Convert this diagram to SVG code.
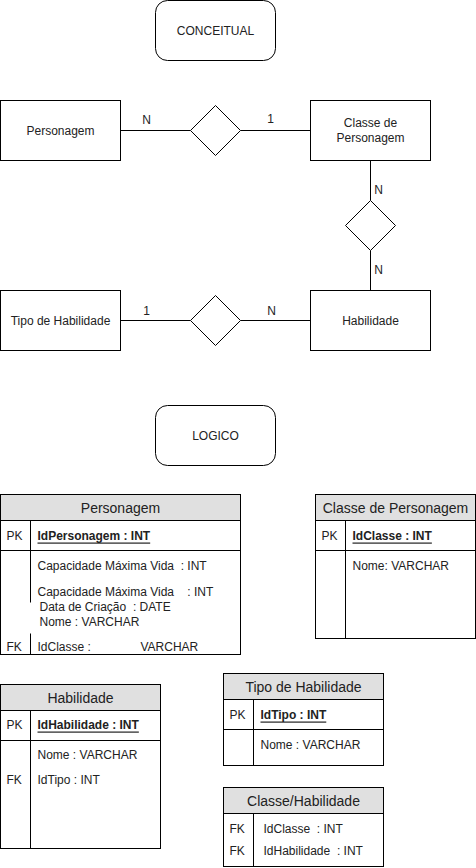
<svg xmlns="http://www.w3.org/2000/svg" width="476" height="868" viewBox="0 0 476 868">
<style>
.s{fill:#fff;stroke:#000;stroke-width:1}
.h{fill:#e0e0e0;stroke:#000;stroke-width:1}
.l{stroke:#000;stroke-width:1;fill:none}
text{font-family:"Liberation Sans",Arial,sans-serif;font-size:12px;fill:#222;dominant-baseline:central;white-space:pre}
.c{text-anchor:middle}
.t{font-size:14px}
.b{font-weight:bold;text-decoration:underline}
</style>
<rect width="476" height="868" fill="#fff"/>
<g transform="translate(0.5,0.5)">
<g id="connectors">
<line class="l" x1="120" y1="130" x2="190" y2="130"/>
<line class="l" x1="240" y1="130" x2="310" y2="130"/>
<line class="l" x1="370" y1="160" x2="370" y2="200"/>
<line class="l" x1="370" y1="250" x2="370" y2="290"/>
<line class="l" x1="120" y1="320" x2="190" y2="320"/>
<line class="l" x1="240" y1="320" x2="310" y2="320"/>
<text x="146" y="119" class="c">N</text>
<text x="270" y="118" class="c">1</text>
<text x="378" y="189" class="c">N</text>
<text x="378" y="269" class="c">N</text>
<text x="146" y="310" class="c">1</text>
<text x="271" y="310" class="c">N</text>
</g>
<g id="conceitual">
<rect class="s" x="155" y="0" width="120" height="60" rx="12"/>
<text x="215" y="30" class="c">CONCEITUAL</text>
</g>
<g id="logico">
<rect class="s" x="155" y="405" width="120" height="60" rx="12"/>
<text x="215" y="435" class="c">LOGICO</text>
</g>
<g id="e-personagem">
<rect class="s" x="0" y="100" width="120" height="60"/>
<text x="60" y="130" class="c">Personagem</text>
</g>
<g id="r-1">
<polygon class="s" points="215,105 240,130 215,155 190,130"/>
</g>
<g id="e-classe">
<rect class="s" x="310" y="100" width="120" height="60"/>
<text x="370" y="122" class="c">Classe de</text>
<text x="370" y="137" class="c">Personagem</text>
</g>
<g id="r-2">
<polygon class="s" points="370,200 395,225 370,250 345,225"/>
</g>
<g id="e-habilidade">
<rect class="s" x="310" y="290" width="120" height="60"/>
<text x="370" y="320" class="c">Habilidade</text>
</g>
<g id="r-3">
<polygon class="s" points="215,295 240,320 215,345 190,320"/>
</g>
<g id="e-tipo">
<rect class="s" x="0" y="290" width="120" height="60"/>
<text x="60" y="320" class="c">Tipo de Habilidade</text>
</g>

<g id="t-personagem">
<rect class="s" x="0" y="494" width="240" height="160"/>
<rect class="h" x="0" y="494" width="240" height="26"/>
<text x="120" y="507" class="c t">Personagem</text>
<line class="l" x1="0" y1="550" x2="240" y2="550"/>
<line class="l" x1="30" y1="520" x2="30" y2="602"/>
<line class="l" x1="30" y1="633" x2="30" y2="654"/>
<text x="6" y="535">PK</text>
<text x="37" y="535" class="b">IdPersonagem : INT</text>
<text x="37" y="565">Capacidade Máxima Vida  : INT</text>
<text x="37" y="591">Capacidade Máxima Vida    : INT</text>
<text x="39" y="606">Data de Criação  : DATE</text>
<text x="39" y="621">Nome : VARCHAR</text>
<text x="6" y="646">FK</text>
<text x="37" y="646">IdClasse :</text>
<text x="140" y="646">VARCHAR</text>
</g>
<g id="t-classe">
<rect class="s" x="315" y="494" width="160" height="144"/>
<rect class="h" x="315" y="494" width="160" height="26"/>
<text x="395" y="507" class="c t">Classe de Personagem</text>
<line class="l" x1="315" y1="550" x2="475" y2="550"/>
<line class="l" x1="345" y1="520" x2="345" y2="638"/>
<text x="321" y="535">PK</text>
<text x="352" y="535" class="b">IdClasse : INT</text>
<text x="352" y="565">Nome: VARCHAR</text>
</g>
<g id="t-habilidade">
<rect class="s" x="0" y="684" width="160" height="164"/>
<rect class="h" x="0" y="684" width="160" height="26"/>
<text x="80" y="697" class="c t">Habilidade</text>
<line class="l" x1="0" y1="740" x2="160" y2="740"/>
<line class="l" x1="30" y1="710" x2="30" y2="848"/>
<text x="6" y="724">PK</text>
<text x="37" y="724" class="b">IdHabilidade : INT</text>
<text x="37" y="754">Nome : VARCHAR</text>
<text x="6" y="779">FK</text>
<text x="37" y="779">IdTipo : INT</text>
</g>
<g id="t-tipo">
<rect class="s" x="223" y="673" width="160" height="92"/>
<rect class="h" x="223" y="673" width="160" height="26"/>
<text x="303" y="686" class="c t">Tipo de Habilidade</text>
<line class="l" x1="223" y1="729" x2="383" y2="729"/>
<line class="l" x1="253" y1="699" x2="253" y2="765"/>
<text x="229" y="714">PK</text>
<text x="260" y="714" class="b">IdTipo : INT</text>
<text x="260" y="744">Nome : VARCHAR</text>
</g>
<g id="t-classehab">
<rect class="s" x="223" y="787" width="160" height="79"/>
<rect class="h" x="223" y="787" width="160" height="26"/>
<text x="303" y="800" class="c t">Classe/Habilidade</text>
<line class="l" x1="253" y1="813" x2="253" y2="866"/>
<text x="229" y="828">FK</text>
<text x="263" y="828">IdClasse  : INT</text>
<text x="229" y="850">FK</text>
<text x="263" y="850">IdHabilidade  : INT</text>
</g>
</g>
</svg>
